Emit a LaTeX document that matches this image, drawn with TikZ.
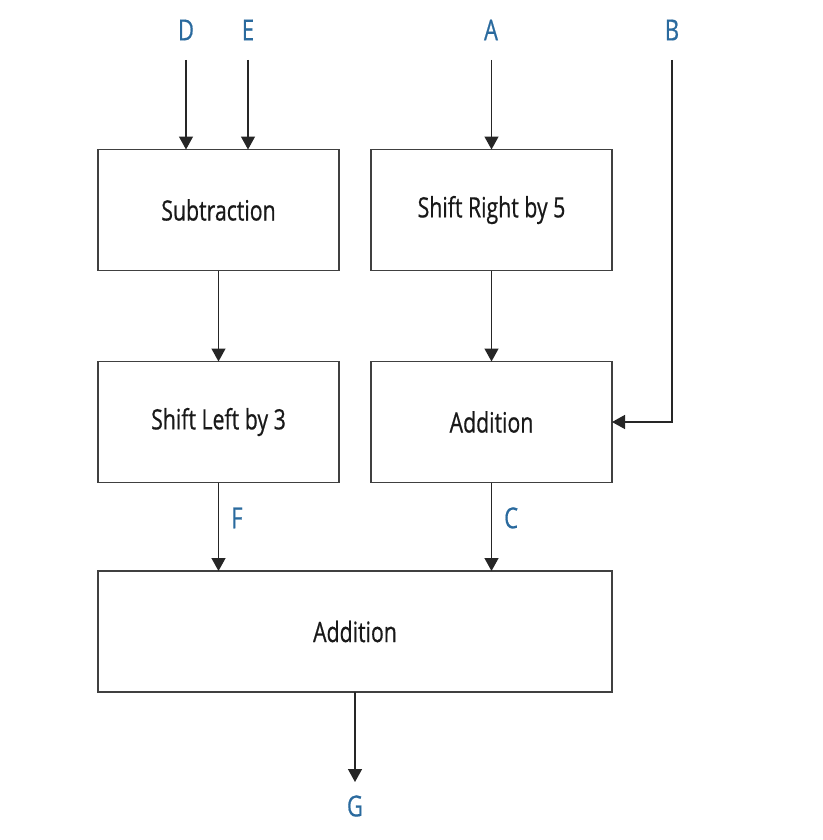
\documentclass[tikz,border=0pt]{standalone}
\usepackage{fontspec}
\setmainfont{Open Sans}[FakeStretch=0.76, FakeBold=0.6]
\usetikzlibrary{positioning, arrows.meta}
\definecolor{lblblue}{RGB}{42,106,158}
\definecolor{boxgray}{RGB}{64,64,64}

\begin{document}
\begin{tikzpicture}[
    x=1pt, y=-1pt,
    node distance=91pt and 32pt,
    box/.style={draw=boxgray, line width=1.4pt, rectangle, minimum width=241pt, minimum height=121pt, inner sep=0pt, outer sep=0pt, align=center, font=\fontsize{28}{32}\selectfont, text=black!90},
    lbl/.style={inner sep=0pt, font=\fontsize{29}{32}\selectfont, text=lblblue},
    arrow/.style={-{Triangle[length=13pt, width=14pt]}, line width=1.4pt, black!85}
]
\useasboundingbox (0,0) rectangle (822,840);

% Top row
\node[box] (sub) at (218.5,210) {Subtraction};
\node[box, right=of sub] (shiftr) {Shift Right by 5};

% Middle row
\node[box, below=of sub] (shiftl) {Shift Left by 3};
\node[box, below=of shiftr] (add) {Addition};

% Bottom
\node[box, minimum width=514pt] (sum) at (355,631.5) {Addition};

% Inputs and output
\node[lbl] (D) at (186,30) {D};
\node[lbl] (E) at (248,30) {E};
\node[lbl] (A) at (491,30) {A};
\node[lbl] (B) at (672,30) {B};
\node[lbl] (G) at (355,806) {G};
\coordinate (Din) at (186,60);
\coordinate (Ein) at (248,60);
\coordinate (Ain) at (491.5,60);
\coordinate (Bin) at (672,60);
\coordinate (Gout) at (355,782);

% Edges
\draw[arrow] (Din) -- (Din |- sub.north);
\draw[arrow] (Ein) -- (Ein |- sub.north);
\draw[arrow] (Ain) -- (shiftr.north);
\draw[arrow] (Bin) |- (add.east);

\draw[arrow] (sub) -- (shiftl);
\draw[arrow] (shiftr) -- (add);

\draw[arrow] (shiftl.south) -- (shiftl.south |- sum.north) node[lbl, pos=0.4, right=12pt] (F) {F};
\draw[arrow] (add.south) -- (add.south |- sum.north) node[lbl, pos=0.4, right=12pt] (C) {C};

\draw[arrow] (sum.south) -- (Gout);

\end{tikzpicture}
\end{document}
